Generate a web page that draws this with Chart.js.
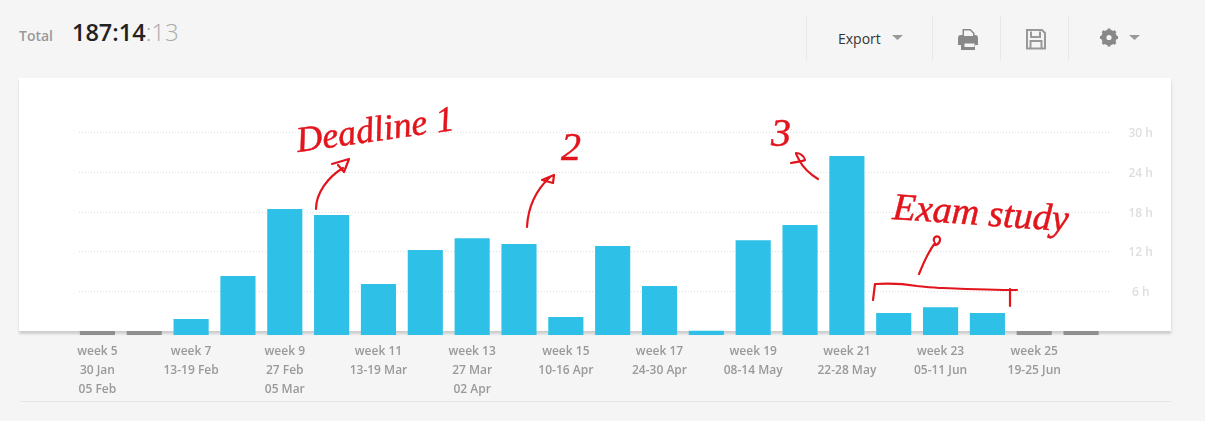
<!DOCTYPE html>
<html>
<head>
<meta charset="utf-8">
<style>
  html, body { margin: 0; padding: 0; background: #f5f5f5; width: 1205px; height: 421px; overflow: hidden; font-family: "Open Sans", sans-serif; }
  .abs { position: absolute; }
  #card { left: 19px; top: 78px; width: 1152px; height: 253px; background: #fff; box-shadow: 0 3px 2px rgba(0,0,0,.13), 1px 2px 4px rgba(0,0,0,.05); }
  #rule { left: 20px; top: 401px; width: 1151px; height: 1px; background: #e6e6e6; }
  .sep { width: 1px; top: 16px; height: 44px; background: #e8e8e8; }
  #total { left: 19px; top: 27px; font-size: 14px; font-weight: 600; color: #999; line-height: 18px; }
  #clock { left: 72px; top: 15px; font-size: 23.500px; font-weight: 600; color: #222; line-height: 34px; white-space: nowrap; }
  #clock span { font-weight: 300; font-size: 24px; color: #aaa; }
  #export { left: 838px; top: 29px; font-size: 14px; color: #333; line-height: 20px; }
  canvas { position: absolute; left: 0; top: 0; }
  svg { position: absolute; left: 0; top: 0; pointer-events: none; }
  .ink { fill: none; stroke: #e2141c; stroke-width: 2.2; stroke-linecap: round; stroke-linejoin: round; }
  .hand { fill: #e2141c; stroke: #e2141c; stroke-width: 0.5; font-family: "Liberation Serif", serif; font-style: italic; }
</style>
</head>
<body>
<div class="abs" id="card"></div>
<div class="abs" id="rule"></div>
<div class="abs sep" style="left:806px"></div>
<div class="abs sep" style="left:932px"></div>
<div class="abs sep" style="left:1000px"></div>
<div class="abs sep" style="left:1068px"></div>
<div class="abs" id="total">Total</div>
<div class="abs" id="clock">187:14<span>:13</span></div>
<div class="abs" id="export">Export</div>
<canvas id="chart" width="1205" height="421"></canvas>
<svg width="1205" height="421" viewBox="0 0 1205 421">
  <!-- toolbar carets -->
  <path d="M892 35h11l-5.500 5z" fill="#999"/>
  <path d="M1129 35h11l-5.500 5z" fill="#999"/>
  <!-- printer -->
  <path d="M958 38q0-3 3-3h1.500v-6h8l4 4v2h0.500q3 0 3 3v7h-3v5h-14v-5h-3z M964 30.500v5.500h9v-2.500l-3-3z M964.500 43.500v3.500h10v-3.500z" fill="#888" fill-rule="evenodd"/>
  <!-- floppy disk -->
  <path d="M1027 30h15l3 3v15.500h-18z M1031 31.500v5.500h9v-5.500 M1030.500 47.500v-6.500h11v6.500" fill="none" stroke="#999" stroke-width="2"/>
  <!-- gear -->
  <circle cx="1109" cy="37.500" r="5.800" fill="none" stroke="#888" stroke-width="4"/>
  <path d="M1109 28.500v18M1100 37.500h18M1102.600 31.100l12.800 12.800M1115.400 31.100l-12.800 12.800" stroke="#888" stroke-width="3"/>
  <circle cx="1109" cy="37.500" r="2.600" fill="#f5f5f5"/>
  <!-- hand-written notes -->
  <text class="hand" font-size="36" transform="translate(298 152) rotate(-8)">Deadline 1</text>
  <path class="ink" d="M316 209c0-16 12-32 27-41M332 164l17-5-5 13-6-7"/>
  <text class="hand" font-size="40" x="561" y="160">2</text>
  <path class="ink" d="M527 227c1-20 8-36 23-50M542 180l12-5-1 8z"/>
  <text class="hand" font-size="40" x="771" y="146">3</text>
  <path class="ink" d="M818 179c-5-3-14-10-19-19c-1-3-3-5-3-7c3 0 8 2 9 7c-4 2-10 2-14 3"/>
  <text class="hand" font-size="38" transform="translate(892 219) rotate(4)">Exam study</text>
  <path class="ink" d="M919 274c4-10 9-22 16-31M934 245c6 0 7-6 5-8-3-2-6 1-5 4"/>
  <path class="ink" d="M873 300l2-16c14-1 30 0 42 2c10 1 18 2 26 2c25 1 50 2 74 2M1010 306v-17"/>
</svg>
<script src="https://cdn.jsdelivr.net/npm/chart.js@4"></script>
<script>
// Tracked hours per calendar week
const weekLabels = [
  ["week 5", "30 Jan", "05 Feb"], "",
  ["week 7", "13-19 Feb"], "",
  ["week 9", "27 Feb", "05 Mar"], "",
  ["week 11", "13-19 Mar"], "",
  ["week 13", "27 Mar", "02 Apr"], "",
  ["week 15", "10-16 Apr"], "",
  ["week 17", "24-30 Apr"], "",
  ["week 19", "08-14 May"], "",
  ["week 21", "22-28 May"], "",
  ["week 23", "05-11 Jun"], "",
  ["week 25", "19-25 Jun"], ""
];
const hoursTracked = [0, 0, 1.8, 8.3, 18.4, 17.5, 7.1, 12.2, 14.0, 13.1, 2.1, 12.8, 6.8, 0.05, 13.7, 16.0, 26.4, 2.7, 3.6, 2.7, 0, 0];
const hourTicks = [0, 6, 12, 18, 24, 30];
const barBase = -0.6;

// Dotted horizontal guides, running slightly past the plot area toward the tick labels
const dottedGuides = {
  id: "dottedGuides",
  beforeDatasetsDraw(chart) {
    const { ctx, scales: { y } } = chart;
    ctx.save();
    ctx.strokeStyle = "#dedede";
    ctx.lineWidth = 1;
    ctx.setLineDash([1, 2]);
    hourTicks.filter(v => v > 0).forEach(v => {
      const py = Math.round(y.getPixelForValue(v)) + 0.5;
      ctx.beginPath();
      ctx.moveTo(79, py);
      ctx.lineTo(1111, py);
      ctx.stroke();
    });
    ctx.restore();
  }
};

new Chart(document.getElementById("chart"), {
  type: "bar",
  data: {
    labels: weekLabels,
    datasets: [{
      data: hoursTracked,
      base: barBase,
      backgroundColor: hoursTracked.map(v => v === 0 ? "#8f8f8f" : "#2ec0e6"),
      barPercentage: 0.75,
      categoryPercentage: 1
    }]
  },
  options: {
    responsive: false,
    animation: false,
    layout: { padding: { left: 74, top: 132, right: 0, bottom: 0 } },
    plugins: { legend: { display: false }, tooltip: { enabled: false } },
    scales: {
      x: {
        grid: { display: false },
        border: { display: false },
        afterFit(scale) { scale.height = 86; },
        ticks: {
          autoSkip: false,
          maxRotation: 0,
          minRotation: 0,
          padding: -1,
          color: "#999",
          font: { family: "Open Sans", size: 12, weight: "600", lineHeight: 1.58 }
        }
      },
      y: {
        position: "right",
        min: barBase,
        max: 30,
        afterBuildTicks(scale) { scale.ticks = hourTicks.filter(v => v > 0).map(value => ({ value })); },
        afterFit(scale) { scale.width = 100.5; },
        grid: { display: false, drawTicks: false },
        border: { display: false },
        ticks: {
          padding: 24,
          labelOffset: 1.5,
          crossAlign: "center",
          color: "#dedede",
          font: { family: "Open Sans", size: 12, weight: "600" },
          callback: v => v + " h"
        }
      }
    }
  },
  plugins: [dottedGuides]
});
</script>
</body>
</html>
